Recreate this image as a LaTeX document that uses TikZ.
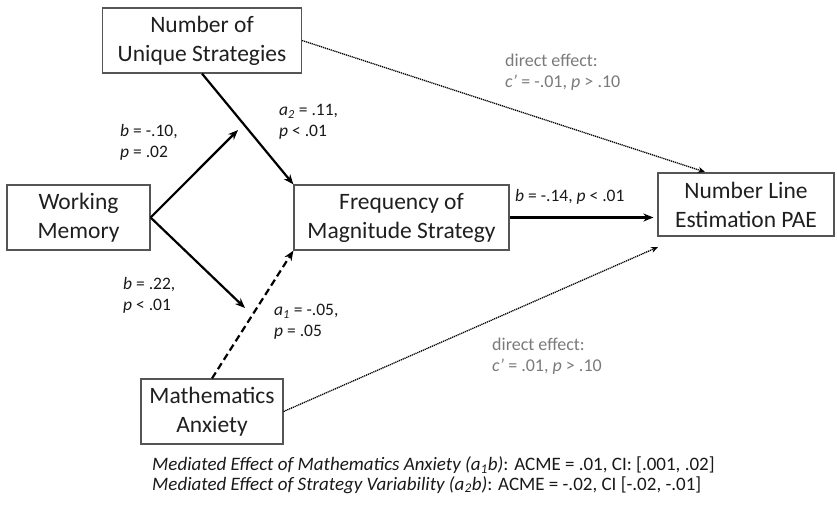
\documentclass[tikz,border=0pt]{standalone}
\usepackage{fontspec}
\setmainfont{Carlito}
\usetikzlibrary{arrows.meta,calc}
\definecolor{efgray}{HTML}{7A7A7A}
\definecolor{boxline}{HTML}{555555}
\tikzset{
  varbox/.style={draw=boxline,line width=1.2pt,rectangle,minimum height=65pt,align=center,font=\fontsize{23.5}{29}\selectfont,text=black!88,inner sep=2pt},
  patharrow/.style={line width=2.2pt,-{Stealth[length=10pt,width=8pt]}},
  dasharrow/.style={line width=2.2pt,dash pattern=on 7pt off 4pt,-{Stealth[length=10pt,width=8pt]}},
  dotarrow/.style={line width=1.3pt,dash pattern=on 1.2pt off 0.8pt,-{Stealth[length=7pt,width=6pt]}},
  lab/.style={anchor=west,align=left,font=\fontsize{17.5}{21}\selectfont,inner sep=0pt,text=black!90},
  glab/.style={lab,text=efgray,font=\fontsize{18}{21}\selectfont},
  captext/.style={anchor=west,align=left,font=\fontsize{19}{20}\selectfont,inner sep=0pt,text=black!90}
}
\begin{document}
\begin{tikzpicture}[x=1pt,y=-1pt]
\useasboundingbox (0,0) rectangle (837,504);
\node[varbox,minimum width=199pt] (nus) at (202,40.5) {Number of\\Unique Strategies};
\node[varbox,minimum width=143pt] (wm) at (78.5,217.5) {Working\\Memory};
\node[varbox,minimum width=215pt] (fms) at (401.5,217.5) {Frequency of\\Magnitude Strategy};
\node[varbox,minimum width=176pt,minimum height=63pt] (nle) at (746,204.5) {Number Line\\Estimation PAE};
\node[varbox,minimum width=142pt] (ma) at (212,411.5) {Mathematics\\Anxiety};

\coordinate (t1) at (238,130);
\coordinate (t2) at (245,308);
\coordinate (t3) at (705,172);
\coordinate (t4) at (658,247);

\draw[patharrow] (wm.east) -- (t1);
\draw[patharrow] (wm.east) -- (t2);
\draw[patharrow] (nus.south) -- (fms.north west);
\draw[dasharrow] (ma.north) -- (fms.south west);
\draw[patharrow,line width=2.6pt] (fms.east) -- ($(fms.east -| nle.west)+(-4,0)$);
\draw[dotarrow] (nus.east) -- (t3);
\draw[dotarrow] (ma.east) -- (t4);

\node[lab] (l1) at (120,142) {\textit{b} = -.10,\\\textit{p} = .02};
\node[lab] (l2) at (279,122) {\textit{a\textsubscript{2}} = .11,\\\textit{p} < .01};
\node[lab] (l3) at (515,197) {\textit{b} = -.14, \textit{p} < .01};
\node[lab] (l4) at (123,295) {\textit{b} = .22,\\\textit{p} < .01};
\node[lab] (l5) at (274,322) {\textit{a\textsubscript{1}} = -.05,\\\textit{p} = .05};
\node[glab] (g1) at (505,72.5) {direct effect:\\\textit{c’} = -.01, \textit{p} > .10};
\node[glab] (g2) at (492,356.5) {direct effect:\\\textit{c’} = .01, \textit{p} > .10};
\node[captext] (c1) at (152,465) {\textit{Mediated Effect of Mathematics Anxiety (a\textsubscript{1}b)}: ACME = .01, CI: [.001, .02]};
\node[captext] (c2) at (152,485) {\textit{Mediated Effect of Strategy Variability (a\textsubscript{2}b)}: ACME = -.02, CI [-.02, -.01]};
\end{tikzpicture}
\end{document}
